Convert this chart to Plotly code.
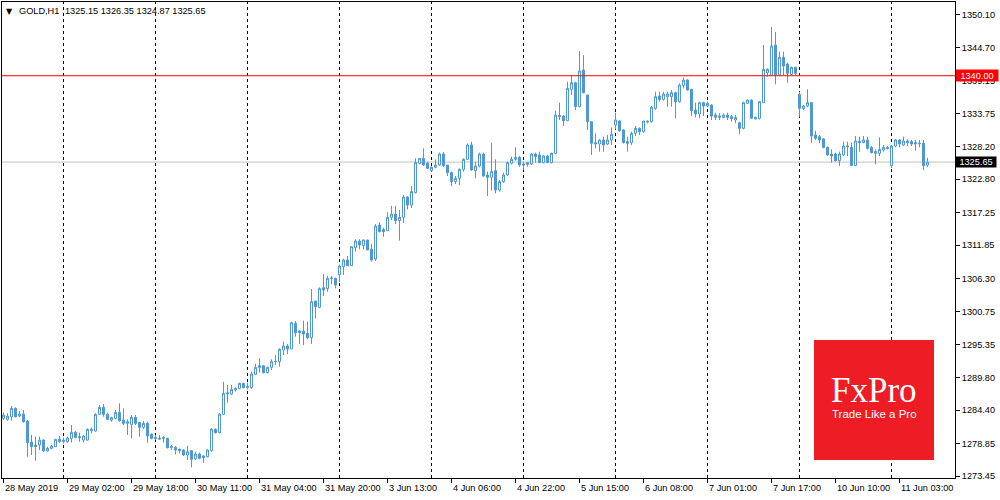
import plotly.graph_objects as go

# ---------------- data (GOLD, H1) ----------------
opens = [
    1283.04, 1282.87, 1283.31, 1284.70, 1283.42, 1283.76, 1282.59, 1279.10, 1278.60, 1278.60,
    1279.43, 1277.61, 1278.05, 1278.33, 1279.55, 1279.16, 1279.16, 1279.71, 1280.71, 1279.99,
    1279.43, 1279.43, 1280.99, 1280.93, 1283.70, 1284.87, 1283.70, 1282.76, 1283.04, 1284.03,
    1282.76, 1282.21, 1282.04, 1283.20, 1282.37, 1281.54, 1282.21, 1280.43, 1279.88, 1279.71,
    1279.71, 1279.71, 1278.16, 1278.22, 1277.88, 1277.77, 1276.94, 1277.66, 1276.27, 1277.11,
    1276.77, 1276.66, 1277.66, 1281.21, 1280.65, 1283.70, 1287.08, 1287.08, 1287.75, 1288.02,
    1288.86, 1288.14, 1288.14, 1290.36, 1291.46, 1291.80, 1290.63, 1291.52, 1292.46, 1292.46,
    1294.40, 1295.07, 1294.57, 1298.83, 1297.56, 1297.56, 1297.17, 1296.45, 1302.55, 1301.50,
    1304.76, 1304.60, 1306.32, 1306.32, 1306.90, 1308.26, 1309.36, 1308.42, 1311.41, 1312.52,
    1311.75, 1312.69, 1311.14, 1309.53, 1315.18, 1314.41, 1314.24, 1316.46, 1317.01, 1315.90,
    1316.46, 1319.84, 1318.50, 1320.56, 1325.44, 1326.27, 1325.44, 1324.22, 1324.77, 1325.16,
    1326.99, 1325.16, 1323.89, 1322.39, 1322.95, 1324.44, 1326.10, 1328.49, 1324.22, 1324.99,
    1326.99, 1323.50, 1323.11, 1324.22, 1321.00, 1322.39, 1323.50, 1325.44, 1326.10, 1326.44,
    1325.33, 1325.55, 1325.33, 1326.99, 1326.83, 1325.55, 1326.66, 1325.55, 1327.10, 1333.40,
    1333.30, 1332.53, 1337.74, 1338.85, 1334.86, 1340.95, 1336.80, 1332.36, 1328.87, 1328.65,
    1329.32, 1328.65, 1329.32, 1331.81, 1332.47, 1330.98, 1329.04, 1328.87, 1330.42, 1331.25,
    1330.70, 1332.47, 1332.36, 1334.58, 1336.63, 1336.07, 1336.52, 1336.52, 1337.18, 1335.69,
    1338.35, 1339.29, 1337.74, 1334.30, 1333.64, 1335.52, 1334.97, 1335.13, 1333.47, 1333.08,
    1333.08, 1333.47, 1333.19, 1332.64, 1332.20, 1331.25, 1335.41, 1335.96, 1332.81, 1332.92,
    1335.52, 1340.51, 1340.12, 1345.11, 1340.12, 1343.06, 1341.95, 1340.23, 1341.40, 1336.91,
    1334.53, 1334.97, 1335.53, 1330.15, 1329.87, 1329.49, 1328.10, 1326.99, 1326.99, 1325.88,
    1326.82, 1328.32, 1328.10, 1325.05, 1329.15, 1328.88, 1329.32, 1328.10, 1327.10, 1327.10,
    1327.66, 1328.10, 1325.05, 1328.32, 1329.32, 1328.49, 1329.15, 1329.04, 1328.88, 1328.66,
    1328.77, 1325.15,
]
highs = [
    1284.03, 1283.87, 1285.09, 1284.87, 1284.26, 1284.42, 1282.76, 1280.27, 1279.99, 1279.99,
    1279.55, 1278.33, 1278.60, 1279.55, 1280.10, 1279.82, 1279.99, 1281.93, 1280.93, 1280.65,
    1280.27, 1281.37, 1281.54, 1283.87, 1285.25, 1285.42, 1283.98, 1283.31, 1284.42, 1285.53,
    1284.70, 1282.87, 1283.59, 1283.59, 1282.48, 1282.59, 1282.48, 1280.43, 1280.27, 1280.27,
    1280.10, 1279.82, 1278.60, 1278.44, 1278.05, 1277.88, 1278.44, 1277.77, 1277.49, 1277.33,
    1276.94, 1277.88, 1281.37, 1281.37, 1283.87, 1289.13, 1288.58, 1288.58, 1288.19, 1288.97,
    1288.97, 1288.97, 1290.80, 1292.07, 1293.01, 1291.80, 1291.63, 1292.85, 1293.57, 1294.68,
    1295.79, 1295.40, 1299.11, 1299.22, 1297.73, 1299.28, 1299.11, 1304.54, 1302.55, 1304.82,
    1307.04, 1306.70, 1306.70, 1306.43, 1308.64, 1309.59, 1310.03, 1311.69, 1312.80, 1312.80,
    1312.80, 1312.69, 1312.02, 1315.35, 1315.63, 1314.74, 1317.29, 1318.34, 1318.34, 1317.68,
    1320.20, 1320.00, 1321.67, 1326.27, 1326.27, 1327.93, 1325.72, 1324.99, 1326.10, 1327.21,
    1327.32, 1325.16, 1324.05, 1323.33, 1324.61, 1326.27, 1328.76, 1329.04, 1325.72, 1327.21,
    1327.21, 1324.05, 1328.87, 1326.10, 1322.67, 1323.89, 1325.72, 1326.55, 1328.10, 1326.66,
    1325.72, 1325.55, 1327.10, 1327.21, 1327.38, 1326.83, 1326.83, 1327.21, 1334.19, 1335.52,
    1333.47, 1339.01, 1340.12, 1339.01, 1344.11, 1343.45, 1336.80, 1332.36, 1330.42, 1329.43,
    1329.87, 1330.15, 1331.42, 1333.86, 1332.64, 1331.09, 1329.87, 1330.70, 1331.64, 1331.42,
    1332.47, 1332.53, 1334.97, 1337.35, 1337.35, 1337.35, 1337.35, 1337.63, 1337.35, 1338.74,
    1339.73, 1339.40, 1337.74, 1335.52, 1335.69, 1335.69, 1335.69, 1335.24, 1333.86, 1333.75,
    1333.75, 1333.86, 1333.47, 1333.47, 1332.36, 1335.69, 1336.07, 1336.07, 1333.19, 1335.80,
    1345.11, 1341.23, 1348.10, 1347.30, 1344.00, 1344.00, 1342.17, 1341.51, 1341.51, 1337.36,
    1335.14, 1337.74, 1335.53, 1330.87, 1330.15, 1329.60, 1328.21, 1327.77, 1327.21, 1327.38,
    1329.04, 1329.04, 1328.88, 1329.98, 1329.87, 1329.98, 1329.87, 1328.32, 1327.77, 1329.76,
    1328.49, 1328.32, 1328.49, 1329.49, 1329.43, 1329.87, 1329.43, 1329.32, 1329.32, 1329.32,
    1329.32, 1326.35,
]
lows = [
    1282.76, 1282.65, 1282.65, 1283.20, 1283.20, 1282.32, 1276.66, 1276.94, 1276.00, 1277.77,
    1277.49, 1277.49, 1277.88, 1278.33, 1278.99, 1278.88, 1278.99, 1278.99, 1279.71, 1279.16,
    1279.05, 1279.32, 1280.54, 1280.82, 1283.59, 1283.31, 1282.76, 1282.48, 1282.87, 1282.48,
    1281.93, 1280.27, 1279.71, 1281.93, 1279.99, 1281.26, 1278.99, 1279.55, 1279.43, 1279.43,
    1278.99, 1278.05, 1277.77, 1277.05, 1277.22, 1276.77, 1276.11, 1274.89, 1276.11, 1276.22,
    1275.67, 1276.55, 1277.49, 1280.54, 1280.54, 1283.59, 1285.64, 1286.92, 1287.47, 1287.86,
    1288.03, 1287.86, 1287.97, 1290.25, 1290.63, 1290.52, 1290.52, 1291.08, 1291.91, 1291.63,
    1293.57, 1293.74, 1294.57, 1296.62, 1295.40, 1295.23, 1296.17, 1295.40, 1299.67, 1301.33,
    1303.38, 1304.10, 1305.32, 1304.65, 1305.71, 1306.87, 1308.42, 1308.42, 1310.75, 1311.14,
    1311.14, 1311.03, 1309.09, 1309.20, 1313.96, 1313.24, 1314.24, 1316.02, 1315.35, 1312.58,
    1315.50, 1317.80, 1318.00, 1320.45, 1325.27, 1324.99, 1324.50, 1324.05, 1324.61, 1324.99,
    1324.88, 1323.33, 1321.67, 1322.00, 1321.84, 1324.05, 1325.99, 1324.22, 1322.95, 1324.77,
    1323.22, 1320.01, 1320.90, 1320.45, 1320.73, 1322.22, 1323.33, 1325.27, 1325.88, 1324.88,
    1324.33, 1324.88, 1325.16, 1325.55, 1325.44, 1325.44, 1325.55, 1325.44, 1327.00, 1332.64,
    1331.64, 1332.53, 1336.80, 1334.30, 1334.75, 1337.07, 1330.98, 1326.82, 1327.93, 1327.37,
    1327.37, 1328.48, 1328.48, 1331.09, 1330.70, 1328.76, 1327.37, 1328.48, 1329.98, 1330.15,
    1330.53, 1332.09, 1332.20, 1334.30, 1335.69, 1335.85, 1334.86, 1334.86, 1332.92, 1335.52,
    1337.90, 1337.52, 1333.30, 1333.08, 1332.92, 1333.30, 1334.75, 1332.64, 1332.64, 1332.64,
    1332.92, 1332.64, 1332.36, 1332.09, 1330.26, 1331.09, 1335.30, 1332.92, 1332.75, 1332.75,
    1335.52, 1339.84, 1339.95, 1338.57, 1339.95, 1340.12, 1338.85, 1340.12, 1340.12, 1333.20,
    1334.31, 1334.75, 1328.88, 1329.32, 1328.77, 1327.93, 1326.66, 1325.55, 1325.72, 1325.00,
    1326.66, 1326.66, 1325.05, 1325.05, 1327.38, 1328.77, 1327.77, 1327.10, 1325.27, 1326.66,
    1327.38, 1327.77, 1324.61, 1328.10, 1328.10, 1328.32, 1328.32, 1328.32, 1327.55, 1328.10,
    1324.33, 1324.87,
]
closes = [
    1283.59, 1283.42, 1284.70, 1283.31, 1283.76, 1282.48, 1278.99, 1278.33, 1278.33, 1279.43,
    1277.61, 1278.05, 1278.44, 1279.55, 1279.16, 1279.43, 1279.77, 1280.71, 1279.88, 1279.82,
    1280.10, 1281.21, 1281.21, 1283.70, 1284.87, 1283.70, 1282.87, 1283.15, 1284.03, 1282.65,
    1282.21, 1282.48, 1283.20, 1282.21, 1281.54, 1282.21, 1280.10, 1279.71, 1279.71, 1279.60,
    1279.82, 1278.16, 1278.33, 1277.77, 1277.66, 1276.94, 1277.49, 1276.22, 1277.11, 1276.39,
    1276.50, 1277.77, 1281.26, 1280.65, 1283.76, 1287.19, 1287.30, 1287.86, 1288.02, 1288.86,
    1288.14, 1288.30, 1290.41, 1291.52, 1291.80, 1290.63, 1291.52, 1292.46, 1292.52, 1294.51,
    1295.07, 1294.57, 1298.94, 1297.28, 1297.28, 1297.06, 1296.45, 1302.44, 1301.61, 1304.60,
    1304.38, 1306.32, 1306.37, 1305.21, 1308.37, 1309.36, 1308.42, 1311.58, 1312.52, 1311.86,
    1312.69, 1311.03, 1309.36, 1315.02, 1314.07, 1314.07, 1316.46, 1317.01, 1315.90, 1316.46,
    1319.84, 1318.50, 1320.73, 1325.55, 1326.27, 1325.16, 1324.61, 1324.77, 1325.16, 1326.99,
    1325.05, 1323.89, 1322.39, 1322.95, 1324.44, 1326.10, 1328.49, 1324.33, 1324.99, 1326.99,
    1323.33, 1323.11, 1324.05, 1321.00, 1322.39, 1323.50, 1325.55, 1326.10, 1326.44, 1325.16,
    1325.16, 1325.27, 1326.99, 1326.55, 1325.55, 1326.66, 1325.55, 1327.10, 1333.47, 1333.25,
    1332.53, 1337.90, 1338.85, 1334.86, 1340.79, 1337.18, 1332.36, 1328.76, 1328.65, 1329.32,
    1328.48, 1329.32, 1330.26, 1332.64, 1330.87, 1328.87, 1328.76, 1330.42, 1331.25, 1330.70,
    1332.47, 1332.36, 1334.75, 1336.52, 1336.07, 1336.96, 1336.96, 1337.18, 1335.69, 1338.46,
    1339.29, 1337.63, 1334.19, 1333.64, 1335.52, 1334.97, 1335.41, 1333.30, 1333.08, 1333.30,
    1333.47, 1333.08, 1332.86, 1333.08, 1331.25, 1335.52, 1335.96, 1332.92, 1333.08, 1335.69,
    1341.06, 1341.06, 1344.94, 1340.12, 1343.06, 1341.62, 1340.40, 1341.40, 1340.40, 1334.58,
    1334.97, 1335.53, 1329.98, 1329.60, 1329.32, 1328.10, 1326.82, 1326.66, 1325.88, 1326.99,
    1328.32, 1328.21, 1325.05, 1329.15, 1328.88, 1329.32, 1327.93, 1327.21, 1327.38, 1327.77,
    1328.10, 1327.93, 1328.32, 1329.32, 1328.66, 1329.15, 1328.88, 1328.66, 1328.66, 1328.77,
    1325.05, 1325.65,
]

symbol = "GOLD,H1"
time_tick_idx = [0, 16, 32, 48, 64, 80, 96, 112, 128, 144, 160, 176, 192, 208, 224]
time_tick_text = ["28 May 2019", "29 May 02:00", "29 May 18:00", "30 May 11:00",
                  "31 May 04:00", "31 May 20:00", "3 Jun 13:00", "4 Jun 06:00",
                  "4 Jun 22:00", "5 Jun 15:00", "6 Jun 08:00", "7 Jun 01:00",
                  "7 Jun 17:00", "10 Jun 10:00", "11 Jun 03:00"]
day_start_idx = [15, 38, 61, 84, 107, 130, 153, 176, 199, 222]
price_ticks = [1350.10, 1344.70, 1339.15, 1333.75, 1328.20, 1322.80, 1317.25, 1311.85,
               1306.30, 1300.75, 1295.35, 1289.80, 1284.40, 1278.85, 1273.45]
alert_level = 1340.00
price_range = [1273.12, 1352.26]

# ---------------- style ----------------
BLUE = "#4f97d9"
FONT = "Liberation Sans"
FS = 9.2
W, H = 1000, 500
ML, MR, MT, MB = 2, 45, 2, 22
PW, PH = W - ML - MR, H - MT - MB
BAR_PX = 4.0
X0 = -1.5 / BAR_PX  # bar 0 centred on a pixel centre


def px_x(p):
    return (p - ML) / PW


def px_y(p):
    return 1 - (p - MT) / PH


bar_idx = list(range(len(opens)))

fig = go.Figure(go.Candlestick(
    x=bar_idx, open=opens, high=highs, low=lows, close=closes,
    increasing=dict(line=dict(color=BLUE, width=1), fillcolor="white"),
    decreasing=dict(line=dict(color=BLUE, width=1), fillcolor=BLUE),
    whiskerwidth=0, hoverinfo="skip", showlegend=False,
))

shapes = []
for d in day_start_idx:
    shapes.append(dict(type="line", xref="x", yref="paper", x0=d, x1=d, y0=0, y1=1,
                       line=dict(color="black", width=1, dash="3px,3px"), layer="below"))
shapes.append(dict(type="line", xref="paper", yref="y", x0=0, x1=1,
                   y0=closes[-1], y1=closes[-1],
                   line=dict(color="#c0c0c0", width=1), layer="below"))
shapes.append(dict(type="line", xref="paper", yref="y", x0=0, x1=1,
                   y0=alert_level, y1=alert_level,
                   line=dict(color="#ff0000", width=1), layer="above"))
# FxPro logo box
shapes.append(dict(type="rect", xref="paper", yref="paper",
                   x0=px_x(814), x1=px_x(934), y0=px_y(460), y1=px_y(340),
                   fillcolor="#ee1c25", line=dict(width=0), layer="above"))

annotations = []
for idx, txt in zip(time_tick_idx, time_tick_text):
    annotations.append(dict(x=idx, xref="x", y=0, yref="paper", text=txt,
                            xanchor="left", yanchor="top", yshift=-3, xshift=-1,
                            showarrow=False, font=dict(family=FONT, size=FS, color="black")))

annotations += [
    dict(x=1, xref="paper", y=alert_level, yref="y", text=f"{alert_level:.2f}",
         xanchor="left", yanchor="middle", showarrow=False, bgcolor="#ff0000",
         width=42, height=11, borderpad=0, align="center",
         font=dict(family=FONT, size=FS, color="white")),
    dict(x=1, xref="paper", y=closes[-1], yref="y", text=f"{closes[-1]:.2f}",
         xanchor="left", yanchor="middle", showarrow=False, bgcolor="black",
         width=40, height=10, borderpad=0, align="center",
         font=dict(family=FONT, size=FS, color="white")),
    dict(x=px_x(4), xref="paper", y=px_y(11), yref="paper", text="▼",
         xanchor="left", yanchor="middle", showarrow=False,
         font=dict(family="DejaVu Sans", size=8, color="black")),
    dict(x=px_x(17), xref="paper", y=px_y(11), yref="paper", text=symbol,
         xanchor="left", yanchor="middle", showarrow=False,
         font=dict(family=FONT, size=FS, color="black")),
    dict(x=px_x(63), xref="paper", y=px_y(11), yref="paper",
         text=f"{opens[-1]:.2f} {highs[-1]:.2f} {lows[-1]:.2f} {closes[-1]:.2f}",
         xanchor="left", yanchor="middle", showarrow=False,
         font=dict(family=FONT, size=FS, color="black")),
    dict(x=px_x(874), xref="paper", y=px_y(390), yref="paper", text="FxPro",
         xanchor="center", yanchor="middle", showarrow=False,
         font=dict(family="Liberation Serif", size=35, color="white")),
    dict(x=px_x(874), xref="paper", y=px_y(414), yref="paper", text="Trade Like a Pro",
         xanchor="center", yanchor="middle", showarrow=False,
         font=dict(family=FONT, size=11.5, color="white")),
]

fig.update_layout(
    width=W, height=H,
    margin=dict(l=ML, r=MR, t=MT, b=MB),
    paper_bgcolor="white", plot_bgcolor="white",
    showlegend=False, boxgap=0.5, boxgroupgap=0,
    shapes=shapes, annotations=annotations,
    xaxis=dict(range=[X0, X0 + PW / BAR_PX], rangeslider=dict(visible=False),
               showgrid=False, zeroline=False, showline=True, mirror=True,
               linecolor="black", linewidth=1, ticks="outside", ticklen=4,
               tickcolor="black", tickvals=time_tick_idx, showticklabels=False),
    yaxis=dict(side="right", range=price_range, tickvals=price_ticks,
               ticktext=[f"{v:.2f}" for v in price_ticks],
               showgrid=False, zeroline=False, showline=True, mirror=True,
               linecolor="black", linewidth=1, ticks="outside", ticklen=4,
               tickcolor="black", automargin=False,
               tickfont=dict(family=FONT, size=FS, color="black")),
)

fig.write_html("out.html", config={"displayModeBar": False},
               post_script="document.body.style.margin='0';document.body.style.overflow='hidden';")
